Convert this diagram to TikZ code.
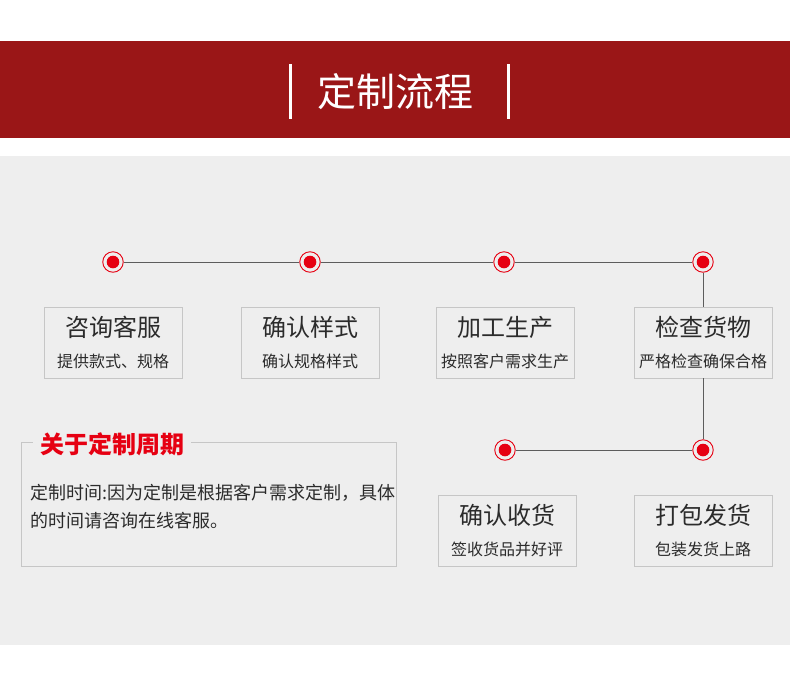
\documentclass[tikz,border=0pt]{standalone}
\usepackage{fontspec}
\setmainfont{Noto Sans CJK SC}
\usetikzlibrary{positioning}
\definecolor{bannerred}{HTML}{9A1617}
\definecolor{panelgray}{HTML}{EEEEEE}
\definecolor{dotred}{HTML}{E60012}
\definecolor{linegray}{HTML}{5C5C5C}
\definecolor{boxgray}{HTML}{C6C6C6}
\definecolor{inkdark}{HTML}{2B2B2B}
\tikzset{
  stepdot/.style={circle, draw=dotred, line width=0.9pt, fill=panelgray, minimum size=20.5pt, inner sep=0pt,
    path picture={\fill[dotred] (path picture bounding box.center) circle (6.3pt);}},
  stepcard/.style={draw=boxgray, line width=0.9pt, fill=panelgray, minimum width=138pt, minimum height=71pt, inner sep=0pt},
  cardhead/.style={font=\fontsize{24}{28}\selectfont, text=inkdark, inner sep=0pt},
  cardsub/.style={font=\fontsize{16}{19}\selectfont, text=inkdark, inner sep=0pt},
  flowline/.style={draw=linegray, line width=0.9pt},
}
\begin{document}
\begin{tikzpicture}[x=1pt, y=-1pt]
  % fondo y banda
  \useasboundingbox (0,0) rectangle (790,691);
  \fill[white] (0,0) rectangle (790,691);
  \fill[bannerred] (0,41) rectangle (790,138);
  \fill[panelgray] (0,156) rectangle (790,645);
  \node[font=\fontsize{39}{44}\selectfont, text=white, inner sep=0pt] (title) at (395,92) {定制流程};
  \draw[white, line width=3pt] (290,64) -- (290,119);
  \draw[white, line width=3pt] (508,64) -- (508,119);
  % tarjetas del proceso
  \foreach \name/\x/\y/\head/\sub in {c1/113/342.5/咨询客服/提供款式、规格, c2/310/342.5/确认样式/确认规格样式,
      c3/505/342.5/加工生产/按照客户需求生产, c4/703/342.5/检查货物/严格检查确保合格,
      c5/507/530.5/确认收货/签收货品并好评, c6/703/530.5/打包发货/包装发货上路} {
    \node[stepcard] (\name) at (\x,\y) {};
    \node[cardhead] (\name h) at (\x,\y-15.5) {\head};
    \node[cardsub] (\name s) at (\x,\y+18.5) {\sub};
  }
  % puntos
  \foreach \name/\x/\y in {d1/113/262, d2/310/262, d3/504/262, d4/703/262, d5/505/450, d6/703/450}
    \node[stepdot] (\name) at (\x,\y) {};
  \draw[flowline] (d1) -- (d2) -- (d3) -- (d4);
  \draw[flowline] (d4) -- (c4);
  \draw[flowline] (c4) -- (d6);
  \draw[flowline] (d6) -- (d5);
  % recuadro de plazo
  \node[draw=boxgray, line width=0.9pt, minimum width=375pt, minimum height=124pt, inner sep=0pt] (info) at (208.5,504) {};
  \node[anchor=west, fill=panelgray, inner xsep=7pt, inner ysep=2pt, text=dotred,
        font=\fontsize{24}{28}\selectfont\bfseries] (infohead) at (33,444) {关于定制周期};
  \node[anchor=west, align=left, inner sep=0pt, text=inkdark, font=\fontsize{18}{28}\selectfont]
        (infobody) at (30,507) {定制时间:因为定制是根据客户需求定制，具体\\的时间请咨询在线客服。};
\end{tikzpicture}
\end{document}
